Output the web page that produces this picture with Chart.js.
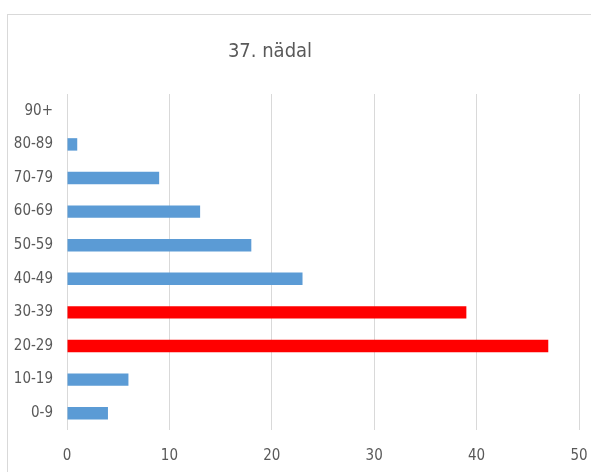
<!DOCTYPE html>
<html>
<head>
<meta charset="utf-8">
<script src="https://cdn.jsdelivr.net/npm/chart.js@4"></script>
<style>
  html, body { margin:0; padding:0; background:#ffffff; overflow:hidden; }
  #wrap { position:relative; width:591px; height:472px; }
  #frame { position:absolute; left:7px; top:14px; width:700px; height:600px; border:1px solid #d9d9d9; box-sizing:border-box; }
  #c { position:absolute; left:0; top:0; }
</style>
</head>
<body>
<div id="wrap">
  <div id="frame"></div>
  <canvas id="c" width="591" height="472"></canvas>
</div>
<script>
const TITLE = '37. nädal';
const categories = ['90+', '80-89', '70-79', '60-69', '50-59', '40-49', '30-39', '20-29', '10-19', '0-9'];
const values = [0, 1, 9, 13, 18, 23, 39, 47, 6, 4];
const barColors = ['#5B9BD5', '#5B9BD5', '#5B9BD5', '#5B9BD5', '#5B9BD5', '#5B9BD5', '#FF0000', '#FF0000', '#5B9BD5', '#5B9BD5'];
const xTicks = [0, 10, 20, 30, 40, 50];

const FONT = "'Liberation Sans Narrow', 'DejaVu Sans Condensed', 'Arial Narrow', sans-serif";
const TEXT = '#595959';

const titlePlugin = {
  id: 'customTitle',
  afterDraw(chart) {
    const ctx = chart.ctx;
    ctx.save();
    ctx.font = '20px ' + FONT;
    ctx.fillStyle = TEXT;
    ctx.textAlign = 'center';
    ctx.textBaseline = 'middle';
    ctx.fillText(TITLE, 270, 52);
    ctx.restore();
  }
};

new Chart(document.getElementById('c'), {
  type: 'bar',
  data: {
    labels: categories,
    datasets: [{
      data: values,
      backgroundColor: barColors,
      borderWidth: 0,
      barPercentage: 0.37,
      categoryPercentage: 1.0
    }]
  },
  options: {
    indexAxis: 'y',
    responsive: false,
    animation: false,
    devicePixelRatio: 1,
    layout: { padding: { top: 94, bottom: 10, left: 0, right: 0 } },
    plugins: { legend: { display: false }, title: { display: false }, tooltip: { enabled: false } },
    scales: {
      x: {
        min: 0, max: 50,
        afterBuildTicks(scale) { scale.ticks = xTicks.map(v => ({ value: v })); },
        afterFit(scale) { scale.height = 32; scale.paddingLeft = 0; scale.paddingRight = 12; },
        grid: { color: '#d9d9d9', lineWidth: 1, drawTicks: false },
        border: { display: false },
        ticks: { color: TEXT, font: { family: FONT, size: 15 }, padding: 17, maxRotation: 0 }
      },
      y: {
        grid: { display: false, drawTicks: false },
        border: { display: false },
        afterFit(scale) { scale.width = 67; },
        ticks: { color: TEXT, font: { family: FONT, size: 15 }, padding: 14 }
      }
    }
  },
  plugins: [titlePlugin]
});
</script>
</body>
</html>
